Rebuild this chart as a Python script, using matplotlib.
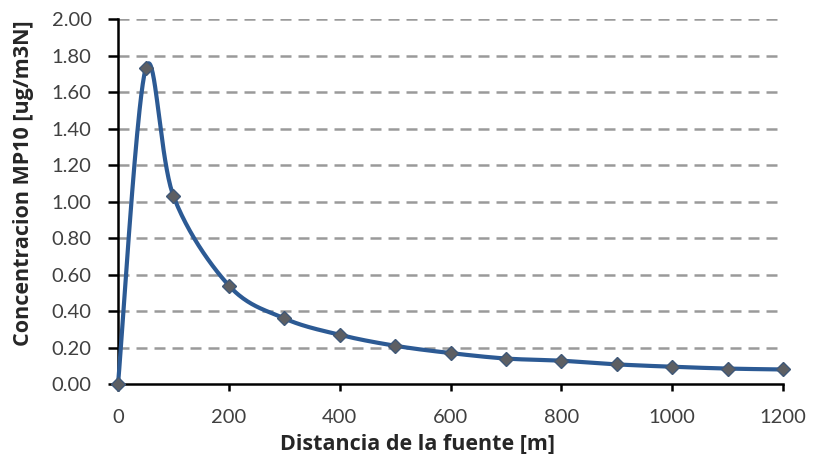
import numpy as np
import matplotlib
matplotlib.use('Agg')
import matplotlib.pyplot as plt

plt.rcParams['font.family'] = ['Lato', 'DejaVu Sans']

# Datos
distancia = [0, 50, 100, 200, 300, 400, 500, 600, 700, 800, 900, 1000, 1100, 1200]
concentracion = [0.0, 1.73, 1.03, 0.54, 0.36, 0.27, 0.21, 0.17, 0.14, 0.128, 0.108, 0.095, 0.085, 0.08]
y_ticks = [0.0, 0.2, 0.4, 0.6, 0.8, 1.0, 1.2, 1.4, 1.6, 1.8, 2.0]
x_ticks = [0, 200, 400, 600, 800, 1000, 1200]


def suavizar(x, y, sx, sy, n=40):
    # curva suavizada tipo Excel (Bezier con tangentes Catmull-Rom)
    px = np.asarray(x, float) * sx
    py = np.asarray(y, float) * sy
    P = np.column_stack([px, py])
    out = [P[0]]
    for i in range(len(P) - 1):
        p0 = P[i - 1] if i > 0 else P[i]
        p1 = P[i]
        p2 = P[i + 1]
        p3 = P[i + 2] if i + 2 < len(P) else P[i + 1]
        c1 = p1 + (p2 - p0) / 6.0
        c2 = p2 - (p3 - p1) / 6.0
        t = np.linspace(0, 1, n)[1:, None]
        seg = ((1 - t) ** 3) * p1 + 3 * ((1 - t) ** 2) * t * c1 + 3 * (1 - t) * t ** 2 * c2 + t ** 3 * p2
        out.extend(seg)
    out = np.array(out)
    return out[:, 0] / sx, out[:, 1] / sy


fig = plt.figure(figsize=(8.14, 4.54), dpi=100)
ax = fig.add_axes([0.145, 0.154, 0.817, 0.804])

for v in y_ticks[1:]:
    ax.axhline(v, color='#9a9a9a', lw=1.8, ls=(0, (4.4, 2.8)), zorder=1)

xs, ys = suavizar(distancia, concentracion, 665 / 1200, 365 / 2.0)
ax.plot(xs, ys, color='#2c5a94', lw=3.0, zorder=3, solid_capstyle='round', clip_on=False)
ax.plot(distancia, concentracion, ls='none', marker='D', ms=7.5,
        mfc='#5d5f63', mec='#3f5878', mew=1.0, zorder=4, clip_on=False)

ax.set_xlim(0, 1200)
ax.set_ylim(0, 2.0)
ax.set_xticks(x_ticks)
ax.set_yticks(y_ticks)
ax.set_yticklabels(['%.2f' % v for v in y_ticks])

for s in ['top', 'right']:
    ax.spines[s].set_visible(False)
for s in ['left', 'bottom']:
    ax.spines[s].set_linewidth(1.8)
    ax.spines[s].set_color('black')

ax.tick_params(axis='y', direction='out', length=7, width=1.8, labelsize=14.5,
               labelcolor='#404040', pad=12)
ax.tick_params(axis='x', direction='out', length=5, width=1.8, labelsize=14.5,
               labelcolor='#404040', pad=13)

fuente_ejes = {'family': ['Open Sans', 'DejaVu Sans'], 'size': 15.5,
               'weight': 'bold', 'color': '#262626'}
ax.set_xlabel('Distancia de la fuente [m]', fontdict=fuente_ejes)
ax.set_ylabel('Concentracion MP10 [ug/m3N]', fontdict=fuente_ejes)
ax.xaxis.set_label_coords(0.451, -0.135)
ax.yaxis.set_label_coords(-0.126, 0.55)

fig.savefig('out.png', dpi=100)
